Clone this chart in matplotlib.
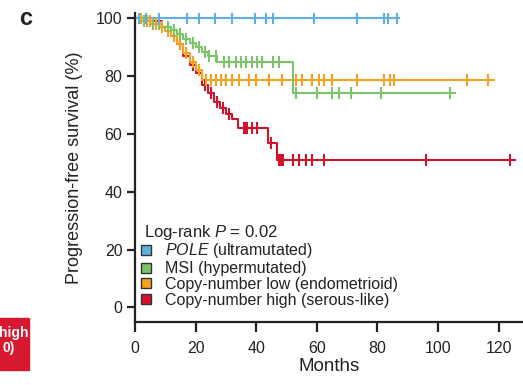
import numpy as np
import matplotlib.pyplot as plt
from matplotlib.lines import Line2D
from matplotlib.patches import Rectangle

plt.rcParams['font.family'] = ['Liberation Sans', 'DejaVu Sans']
plt.rcParams['mathtext.fontset'] = 'custom'
plt.rcParams['mathtext.rm'] = 'Liberation Sans'
plt.rcParams['mathtext.it'] = 'Liberation Sans:italic'

# ---------------------------
# Daten
# ---------------------------
pole_t = [0]
pole_s = [100]
pole_end = 87
pole_cens = [1.3, 3.6, 7.9, 17.2, 21.2, 26.4, 32.1, 39.7, 43.3, 45.6, 59.2, 73.1, 82.3, 83.6, 86.3]

msi_t = [0, 2, 5, 9, 12, 14, 16, 18, 20, 22, 24, 27, 52]
msi_s = [100, 99, 98, 97, 96, 94.5, 93, 91.5, 90, 88.5, 87, 85, 74]
msi_end = 105.5
msi_cens = [3, 6, 8, 11, 13, 15, 17, 19, 21, 23, 24.5, 26.7, 29.4, 31.1, 33.3, 34.9,
            36.6, 38.7, 40.4, 42, 45.4, 47.6, 53, 60, 65, 67.4, 71.4, 81.3, 103.8]

cnl_t = [0, 3, 6, 8, 10, 12, 14, 16, 18, 20, 22]
cnl_s = [100, 99, 98, 97, 95.5, 94, 91, 88, 85, 82, 78.5]
cnl_end = 118.5
cnl_cens = [2, 4, 5, 7, 9, 11, 13, 15, 17, 19, 21, 23.5, 25.1, 26.8, 28.4, 30.1, 32.1,
            34.4, 37.7, 40, 44.3, 48.6, 53.2, 55.2, 58.5, 60.8, 62.5, 65.1, 73.1,
            82.3, 84, 85.6, 109.4, 116.4]

cnh_t = [0, 5, 9, 12, 14, 16, 18, 20, 22, 24, 26, 28, 30, 32, 34, 44, 47]
cnh_s = [100, 99, 97, 94, 91, 87, 84, 81, 77, 74, 71, 69, 67, 65, 62, 57, 51]
cnh_end = 125.5
cnh_cens = [15, 19, 23, 25, 27, 29, 31, 36, 36.5, 37, 38.7, 40.3, 45, 47.6, 48.3, 48.8,
            52, 54.2, 56.5, 58.5, 62.5, 96, 123.6]

labels = [r'$\it{POLE}$ (ultramutated)', 'MSI (hypermutated)',
          'Copy-number low (endometrioid)', 'Copy-number high (serous-like)']
farben = ['#5fb0e0', '#7cc46a', '#f5a121', '#d3132e']
x_ticks = [0, 20, 40, 60, 80, 100, 120]
y_ticks = [0, 20, 40, 60, 80, 100]


def level_at(t, s, x):
    # Stufenwert der KM-Kurve zum Zeitpunkt x
    idx = np.searchsorted(t, x, side='right') - 1
    return np.asarray(s)[idx]


fig = plt.figure(figsize=(5.23, 3.85), dpi=100)
ax = fig.add_axes([0.258, 0.164, 0.742, 0.802])

gruppen = [
    (cnh_t, cnh_s, cnh_end, cnh_cens, farben[3]),
    (cnl_t, cnl_s, cnl_end, cnl_cens, farben[2]),
    (msi_t, msi_s, msi_end, msi_cens, farben[1]),
    (pole_t, pole_s, pole_end, pole_cens, farben[0]),
]
for t, s, t_end, cens, c in gruppen:
    tt = list(t) + [t_end]
    ss = list(s) + [s[-1]]
    ax.step(tt, ss, where='post', color=c, lw=1.5, zorder=2)
    cy = level_at(t, s, np.array(cens))
    ax.plot(cens, cy, linestyle='none', marker='|', color=c, markersize=8,
            mew=1.5, zorder=3)

ax.set_xlim(0, 128)
ax.set_ylim(-5, 101.8)
ax.set_xticks(x_ticks)
ax.set_yticks(y_ticks)
ax.spines['top'].set_visible(False)
ax.spines['right'].set_visible(False)
for sp in ['left', 'bottom']:
    ax.spines[sp].set_linewidth(1.6)
    ax.spines[sp].set_color('#222222')
ax.tick_params(width=1.6, labelsize=11.5, color='#222222', labelcolor='#222222')
ax.tick_params(axis='x', length=7, pad=7)
ax.tick_params(axis='y', length=6, pad=3)
ax.set_xlabel('Months', fontsize=13.5, color='#222222', labelpad=1)
ax.set_ylabel('Progression-free survival (%)', fontsize=13, color='#222222', labelpad=9)

ax.text(3, 25.8, r'Log-rank $\it{P}$ = 0.02', fontsize=12, color='#222222', va='center')

handles = [Line2D([], [], marker='s', linestyle='none', color=c, mec='#333333',
                  markersize=6.5, mew=1.0) for c in farben]
ax.legend(handles, labels, loc='lower left', bbox_to_anchor=(-0.008, 0.02),
          frameon=False, fontsize=11.5, handletextpad=0.8, labelspacing=0.05,
          borderpad=0.0, handlelength=0.8, labelcolor='#222222')

fig.text(0.05, 0.952, 'c', fontsize=17, fontweight='bold', color='#222222', ha='center', va='center')

# Rest des roten Kastens links unten
fig.patches.append(Rectangle((0, 15 / 385), 29 / 523, 52 / 385, transform=fig.transFigure,
                             color='#d6192f', zorder=0))
fig.text(28 / 523, 1 - 333 / 385, 'high', fontsize=10, fontweight='bold', color='white',
         ha='right', va='center')
fig.text(15 / 523, 1 - 348 / 385, '0)', fontsize=10, fontweight='bold', color='white',
         ha='right', va='center')

fig.savefig('out.png', dpi=100)
